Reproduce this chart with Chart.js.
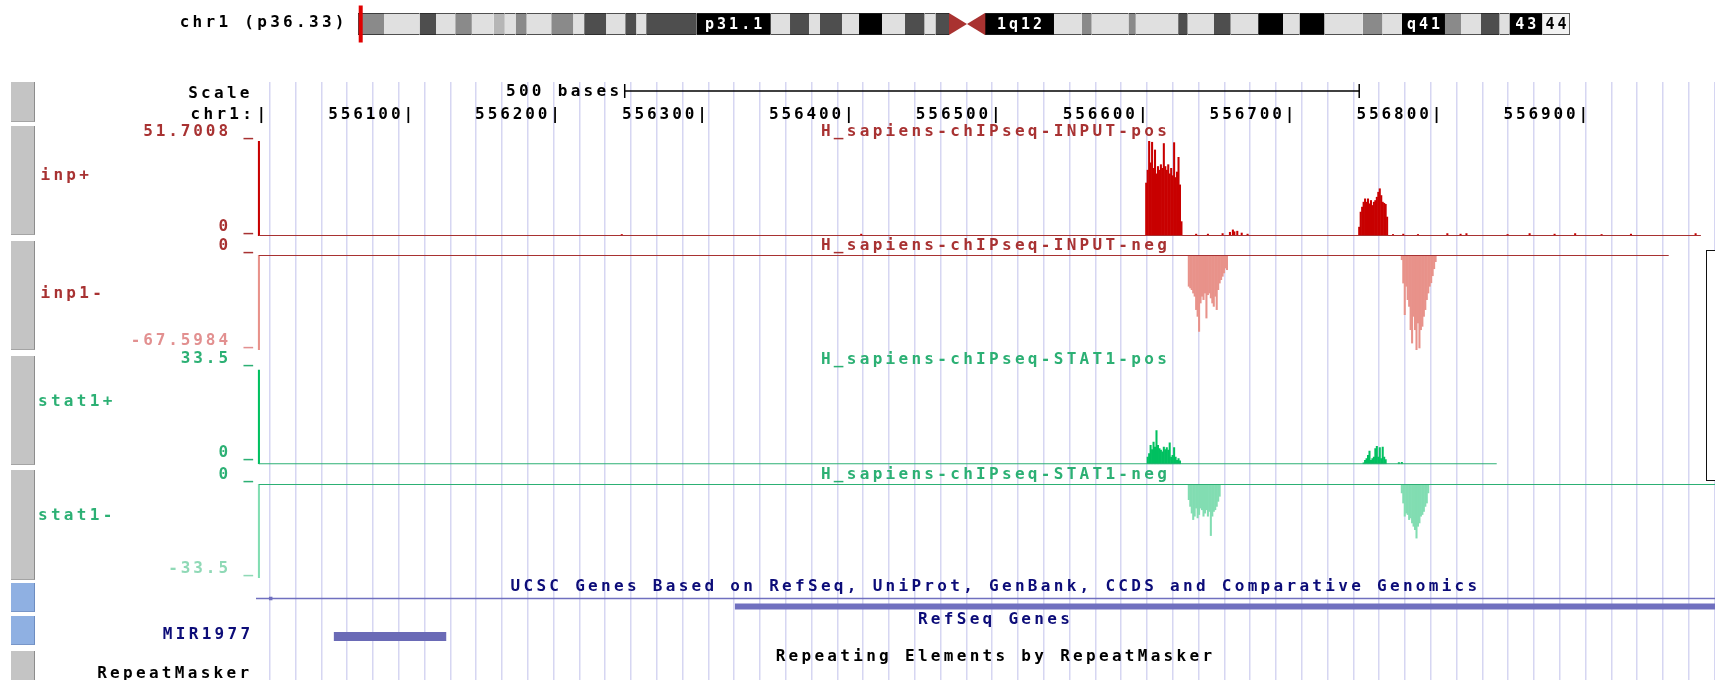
<!DOCTYPE html>
<html>
<head>
<meta charset="utf-8">
<script src="https://cdn.jsdelivr.net/npm/chart.js@4/dist/chart.umd.min.js"></script>
<style>
  html, body { margin: 0; padding: 0; background: #fff; }
  body { position: relative; width: 1715px; height: 680px; overflow: hidden; }
  canvas { position: absolute; }
  .t { position: absolute; font-family: "DejaVu Sans Mono", monospace; font-size: 16px; font-weight: bold;
       letter-spacing: 3.3px; line-height: 18px; white-space: pre; }
  .btn { position: absolute; left: 11px; width: 24px; box-sizing: border-box;
         background: #c4c4c4; border-right: 1px solid #8c8c8c; border-bottom: 1px solid #a4a4a4; }
  .btn.blue { background: #8fb0e2; border-right-color: #6d8cc0; border-bottom-color: #7896c8; }
  #sidebox { position: absolute; left: 1706px; top: 250px; width: 40px; height: 231px;
             border: 1.5px solid #111; background: #fff; box-sizing: border-box; }
</style>
</head>
<body>
<canvas id="tracks" width="1715" height="680" style="left:0;top:0"></canvas>
<canvas id="ideo" width="1226" height="48" style="left:352px;top:0"></canvas>
<div id="sidebox"></div>
<script>
const FONT = 'DejaVu Sans Mono';
const SPACING = '2.9px';

// ---- chr1 window and base-position ruler ----
const windowStart = 555995;
const windowEnd = 556988.2;
const rulerTicks = [556000, 556100, 556200, 556300, 556400, 556500, 556600, 556700, 556800, 556900];
const scaleBarStart = 556246;
const scaleBarBases = 500;

// ---- wiggle track view ranges ----
const inpPlusRange = [0, 51.7008];
const inpMinusRange = [-67.5984, 0];
const statPlusRange = [0, 33.5];
const statMinusRange = [-33.5, 0];

// ---- coverage runs: first base of each run and its per-base values ----
const inpPlusStarts = [555997, 556244, 556407, 556601, 556635, 556643, 556653, 556658, 556670,
  556746, 556769, 556776, 556786, 556806, 556815, 556819, 556847, 556862, 556879, 556893, 556911, 556931, 556975];
const inpPlusRuns = [
  [51.7008], [1.0], [1.2],
  [29, 36, 51.7, 40, 51.2, 37, 47, 34, 38, 36, 39, 37, 50.5, 38, 36, 39, 34, 37, 33, 51, 32, 35, 43, 28, 8],
  [1.2], [1.2], [1.5], [2.2, 0, 3.5, 2.5, 0, 2.8, 0, 0, 1.8], [1.2],
  [5, 13.2, 15.9, 18.6, 20.4, 18.6, 20.4, 17.7, 19.5, 16.8, 18.6, 19.5, 21.3, 24, 25.9, 22.2, 18.6, 18, 17.4, 10.5],
  [1.0], [1.2], [1.0], [1.5], [1.2], [1.5], [1.0], [1.5], [1.2], [1.5], [1.0], [1.2], [1.5]
];
const inpPlusExtent = [555997, 556978.6];

const inpMinusStarts = [555997, 556630, 556775];
const inpMinusRuns = [
  [-67.5984],
  [-22.5, -23.7, -24.9, -27.3, -29.6, -39.1, -43.9, -54.6, -34.4, -29.6, -32, -27.3, -45.1, -28.5,
   -27.3, -30.8, -34.4, -36.8, -29.6, -39.1, -24.9, -20.2, -17.8, -15.4, -13, -9.5, -10.7],
  [-3.6, -20.2, -42.7, -22.5, -32, -36.8, -53.4, -62.9, -43.9, -53.4, -67.5984, -48.6, -66.4, -53.4,
   -51, -43.9, -39.1, -32, -27.3, -22.5, -20, -15, -10, -5]
];
const inpMinusExtent = [555997, 556956.7];

const statPlusStarts = [555997, 556602, 556749, 556773];
const statPlusRuns = [
  [33.5],
  [2.7, 3.9, 6.8, 5.3, 8, 6.2, 12, 6.8, 5.7, 5.1, 4.5, 6.2, 5.3, 6, 5.1, 7.7, 2.7, 3.3, 6, 2.7, 1.5, 2.1, 1.3],
  [0.6, 1.5, 2.1, 3.3, 4.8, 1.5, 2.1, 2.7, 5.7, 6.5, 2.7, 6, 2.1, 6.2, 2.7, 1.8],
  [0.7, 0, 0.8]
];
const statPlusExtent = [555997, 556839.6];

const statMinusStarts = [555997, 556630, 556775];
const statMinusRuns = [
  [-33.5],
  [-5.7, -8.1, -10.5, -12.8, -11.6, -8.7, -12.2, -11, -8.7, -9.3, -11.6, -10.5, -9.3, -11.6, -9.9,
   -18.5, -11.6, -9.9, -9.3, -8.1, -6.3, -4.5],
  [-3.3, -6.9, -11.6, -10.5, -11, -12.8, -12.2, -14, -15.2, -16.4, -19.4, -15.2, -14, -11.6, -11,
   -9.9, -8.1, -6.9, -3.3]
];
const statMinusExtent = [555997, 556988.2];

// ---- gene features ----
const ucscGeneSpan = [555995, 556988.2];
const ucscGeneMarks = [556005];
const refSeqSpan = [556321, 556988.2];
const mir1977Span = [556048, 556124.5];

// ---- chr1 ideogram (Mb) ----
const bandEdges = [0, 5.34, 12.66, 16.03, 19.99, 23.38, 27.88, 30.14, 32.38, 34.64, 39.72, 44.22, 46.48,
  50.98, 54.92, 57.18, 59.22, 69.57, 84.80, 88.77, 92.67, 94.93, 99.45, 102.95, 107.67, 112.40, 116.40,
  118.66, 121.44, 128.83, 143.01, 148.70, 150.74, 158.32, 159.80, 168.53, 170.46, 175.89, 179.30, 184.97,
  190.07, 193.46, 198.57, 206.46, 210.47, 214.50, 223.35, 226.64, 230.75, 234.55, 236.60, 243.34, 249.0];
const bandStains = ['gpos50', 'gneg', 'gpos75', 'gneg', 'gpos50', 'gneg', 'gpos25', 'gneg', 'gpos50', 'gneg',
  'gpos50', 'gneg', 'gpos75', 'gneg', 'gpos75', 'gneg', 'gpos75', 'gpos100', 'gneg', 'gpos75', 'gneg',
  'gpos75', 'gneg', 'gpos100', 'gneg', 'gpos75', 'gneg', 'gpos75', 'acen', 'gvar', 'gneg', 'gpos50',
  'gneg', 'gpos50', 'gneg', 'gpos75', 'gneg', 'gpos75', 'gneg', 'gpos100', 'gneg', 'gpos100', 'gneg',
  'gpos50', 'gneg', 'gpos100', 'gpos50', 'gneg', 'gpos75', 'gneg', 'gpos100', 'gwhite'];
const bandNames = {17: 'p31.1', 29: '1q12', 45: 'q41', 50: '43', 51: '44'};
const viewMb = [0.555995, 0.556988];

// ---- styling ----
const stainColors = { gneg: '#e0e0e0', gwhite: '#f2f2f2', gpos25: '#b6b6b6', gpos50: '#8a8a8a',
  gpos75: '#4e4e4e', gpos100: '#000000', gvar: '#000000', acen: '#a93230' };
const C = {
  inpText: '#a83232', inpBar: '#c80000', inpNegBar: '#e8928a', inpNegLabel: '#e29090',
  statText: '#2cb074', statBar: '#00c060', statNegBar: '#82ddb2', statNegLabel: '#8fd9b6',
  geneText: '#0c0c78', geneLine: '#7070bf', geneBar: '#6a6ab6',
  grid: '#d6d6f2', leftEdge: '#f0b2b2'
};
const guideStart = 556013.1;
const guideStep = 17.563;
const geneRows = { ucsc: 20.5, refSeq: 28.5, mir: 58.5 };
const LABEL_COLUMN = 256;

function runsToPoints(starts, runs) {
  const pts = [];
  starts.forEach((s, k) => runs[k].forEach((v, i) => pts.push({ x: s + i, y: v })));
  return pts;
}

const spacingPlugin = {
  id: 'letterSpacing',
  beforeDraw(chart) { chart.ctx.letterSpacing = SPACING; }
};

const tickFont = { family: FONT, size: 16, weight: 'bold' };
const column = s => { s.width = LABEL_COLUMN; s.paddingTop = 0; s.paddingBottom = 0; };
const flat = s => { s.height = 0; s.paddingLeft = 0; s.paddingRight = 0; };

function trackAxis(range, weight, stackWeight, dark, light, offset) {
  return {
    type: 'linear', position: 'left', stack: 'tracks', stackWeight, weight,
    min: range[0], max: range[1], offset: false,
    afterBuildTicks: s => { s.ticks = range.map(v => ({ value: v })); },
    afterFit: column,
    grid: { display: false, drawTicks: false },
    border: { display: false },
    ticks: {
      autoSkip: false, padding: 0, labelOffset: offset, font: tickFont,
      color: c => (c.tick && c.tick.value === 0) ? dark : light,
      callback: v => v + ' _'
    }
  };
}
function spacer(weight, stackWeight, extra) {
  return Object.assign({ type: 'linear', display: false, position: 'left', stack: 'tracks',
    stackWeight, weight, min: 0, max: 1, afterFit: column }, extra || {});
}

const bar = { type: 'bar', xAxisID: 'x', grouped: false, barPercentage: 1.4, categoryPercentage: 1, borderWidth: 0, order: 2 };
const rule = (axis, ext, color) => ({
  type: 'line', xAxisID: 'x', yAxisID: axis, data: [{ x: ext[0], y: 0 }, { x: ext[1], y: 0 }],
  borderColor: color, borderWidth: 2, pointRadius: 0, order: 1
});
const span = (sp, row, width, color) => ({
  type: 'line', xAxisID: 'x', yAxisID: 'yGenes', data: [{ x: sp[0], y: row }, { x: sp[1], y: row }],
  borderColor: color, borderWidth: width, borderCapStyle: 'butt', pointRadius: 0
});

new Chart(document.getElementById('tracks'), {
  type: 'bar',
  data: {
    datasets: [
      { ...bar, label: 'inp+', yAxisID: 'yInpP', data: runsToPoints(inpPlusStarts, inpPlusRuns), backgroundColor: C.inpBar },
      { ...bar, label: 'inp1-', yAxisID: 'yInpN', data: runsToPoints(inpMinusStarts, inpMinusRuns), backgroundColor: C.inpNegBar },
      { ...bar, label: 'stat1+', yAxisID: 'yStatP', data: runsToPoints(statPlusStarts, statPlusRuns), backgroundColor: C.statBar },
      { ...bar, label: 'stat1-', yAxisID: 'yStatN', data: runsToPoints(statMinusStarts, statMinusRuns), backgroundColor: C.statNegBar },
      rule('yInpP', inpPlusExtent, C.inpText),
      rule('yInpN', inpMinusExtent, C.inpText),
      rule('yStatP', statPlusExtent, C.statText),
      rule('yStatN', statMinusExtent, C.statText),
      {
        type: 'line', xAxisID: 'x', yAxisID: 'yRuler',
        data: [{ x: scaleBarStart, y: 9 }, { x: scaleBarStart + scaleBarBases, y: 9 }],
        borderColor: '#000', borderWidth: 1.5, pointStyle: 'line', pointRotation: 90, pointRadius: 7,
        pointBorderColor: '#000', pointBorderWidth: 1.5
      },
      span(ucscGeneSpan, geneRows.ucsc, 1.5, C.geneLine),
      {
        type: 'line', xAxisID: 'x', yAxisID: 'yGenes', showLine: false,
        data: ucscGeneMarks.map(v => ({ x: v, y: geneRows.ucsc })),
        pointStyle: 'rect', pointRadius: 2.5, pointBackgroundColor: C.geneLine, pointBorderWidth: 0
      },
      span(refSeqSpan, geneRows.refSeq, 6, C.geneLine),
      span(mir1977Span, geneRows.mir, 9, C.geneBar)
    ]
  },
  options: {
    responsive: false, animation: false, events: [],
    layout: { autoPadding: false, padding: { top: 82, left: 0, right: 0, bottom: 0 } },
    plugins: { legend: { display: false }, tooltip: { enabled: false } },
    scales: {
      x: { type: 'linear', display: false, min: windowStart, max: windowEnd, offset: false, afterFit: flat },
      xg: {
        type: 'linear', axis: 'x', position: 'bottom', min: windowStart, max: windowEnd, offset: false,
        afterBuildTicks: s => {
          const t = [{ value: windowStart }];
          for (let v = guideStart; v <= windowEnd; v += guideStep) t.push({ value: v });
          s.ticks = t;
        },
        afterFit: flat,
        grid: { color: c => c.index === 0 ? C.leftEdge : C.grid, lineWidth: 1.5, drawTicks: false },
        ticks: { display: false },
        border: { display: false }
      },
      xr: {
        type: 'linear', axis: 'x', position: { yRuler: 23 }, min: windowStart, max: windowEnd, offset: false,
        afterBuildTicks: s => { s.ticks = rulerTicks.map(v => ({ value: v })); },
        afterFit: flat,
        grid: { display: false, drawTicks: false },
        border: { display: false },
        ticks: {
          autoSkip: false, maxRotation: 0, padding: 0, align: 'end', labelOffset: 5.7,
          color: '#000', font: tickFont,
          callback: v => v === rulerTicks[0] ? '|' : v + '|'
        }
      },
      yRuler: spacer(9, 59, { max: 59, reverse: true }),
      yInpP: trackAxis(inpPlusRange, 8, 95, C.inpText, C.inpText, -9.5),
      yGap1: spacer(7, 19),
      yInpN: trackAxis(inpMinusRange, 6, 95, C.inpText, C.inpNegLabel, -9),
      yGap2: spacer(5, 19.5),
      yStatP: trackAxis(statPlusRange, 4, 94.8, C.statText, C.statText, -11),
      yGap3: spacer(3, 19.7),
      yStatN: trackAxis(statMinusRange, 2, 94, C.statText, C.statNegLabel, -9),
      yGenes: spacer(1, 102, { max: 102, reverse: true })
    }
  },
  plugins: [spacingPlugin]
});

// ---- ideogram ----
const ideoDatasets = bandStains.map((stain, i) => ({
  type: 'bar', grouped: false, barThickness: 22,
  data: [{ x: [bandEdges[i], bandEdges[i + 1]], y: 0 }],
  backgroundColor: stainColors[stain],
  borderColor: '#222',
  borderSkipped: false,
  borderWidth: stain === 'acen' ? 0 : { top: 1, bottom: 1, left: i === 0 ? 1 : 0, right: i === bandStains.length - 1 ? 1 : 0 },
  order: 3
}));
const acenIndex = bandStains.indexOf('acen');
const acenS = bandEdges[acenIndex], acenE = bandEdges[acenIndex + 1], acenM = (acenS + acenE) / 2;
ideoDatasets.push(
  { type: 'line', indexAxis: 'x', data: [{ x: acenS, y: 1 }, { x: acenM, y: 0 }, { x: acenE, y: 1 }],
    fill: 'end', backgroundColor: '#fff', borderWidth: 0, pointRadius: 0, order: 2 },
  { type: 'line', indexAxis: 'x', data: [{ x: acenS, y: -1 }, { x: acenM, y: 0 }, { x: acenE, y: -1 }],
    fill: 'start', backgroundColor: '#fff', borderWidth: 0, pointRadius: 0, order: 2 },
  { type: 'bar', grouped: false, barThickness: 33, inflateAmount: 2, clip: false,
    data: [{ x: viewMb, y: 0 }], backgroundColor: '#e00000', borderWidth: 0, order: 0 }
);

const bandLabelPlugin = {
  id: 'bandLabels',
  afterDatasetsDraw(chart) {
    const { ctx, chartArea } = chart;
    const x = chart.scales.x;
    const yc = (chartArea.top + chartArea.bottom) / 2 + 1;
    ctx.save();
    ctx.font = 'bold 15px "' + FONT + '"';
    ctx.letterSpacing = '3px';
    ctx.textAlign = 'center';
    ctx.textBaseline = 'middle';
    Object.keys(bandNames).forEach(k => {
      const i = +k;
      const cx = x.getPixelForValue((bandEdges[i] + bandEdges[i + 1]) / 2) + 1.5;
      const light = bandStains[i] === 'gneg' || bandStains[i] === 'gwhite';
      ctx.fillStyle = light ? '#000' : '#fff';
      ctx.fillText(bandNames[k], cx, yc);
    });
    ctx.restore();
  }
};

new Chart(document.getElementById('ideo'), {
  type: 'bar',
  data: { datasets: ideoDatasets },
  options: {
    indexAxis: 'y', responsive: false, animation: false, events: [],
    layout: { autoPadding: false, padding: { left: 6, right: 8.2, top: 13, bottom: 13 } },
    plugins: { legend: { display: false }, tooltip: { enabled: false } },
    scales: {
      x: { type: 'linear', display: false, min: 0, max: 249, offset: false },
      y: { type: 'linear', display: false, min: -1, max: 1, offset: false }
    }
  },
  plugins: [bandLabelPlugin]
});

// ---- side buttons and labels ----
const buttons = [[82, 122, ''], [126, 235, ''], [240.5, 350, ''], [355.5, 465, ''], [470, 580, ''],
  [583, 612, 'blue'], [616, 645, 'blue'], [651, 690, '']];
buttons.forEach(([t, b, cls]) => {
  const d = document.createElement('div');
  d.className = 'btn ' + cls;
  d.style.top = t + 'px';
  d.style.height = (b - t) + 'px';
  document.body.appendChild(d);
});

function label(text, x, y, align, color) {
  const d = document.createElement('div');
  d.className = 't';
  d.textContent = text;
  d.style.left = x + 'px';
  d.style.top = y + 'px';
  d.style.color = color;
  const tx = align === 'right' ? '-100%' : align === 'center' ? '-50%' : '0';
  d.style.transform = 'translate(' + tx + ', -50%)';
  document.body.appendChild(d);
}
const mid = 995.5;
label('chr1 (p36.33)', 347.8, 22, 'right', '#000');
label('Scale', 252.8, 93, 'right', '#000');
label('chr1:', 255.2, 113.8, 'right', '#000');
label('500 bases', 622.4, 91, 'right', '#000');
label('H_sapiens-chIPseq-INPUT-pos', mid, 131.3, 'center', C.inpText);
label('H_sapiens-chIPseq-INPUT-neg', mid, 245, 'center', C.inpText);
label('H_sapiens-chIPseq-STAT1-pos', mid, 358.8, 'center', C.statText);
label('H_sapiens-chIPseq-STAT1-neg', mid, 473.6, 'center', C.statText);
label('UCSC Genes Based on RefSeq, UniProt, GenBank, CCDS and Comparative Genomics', mid, 586.3, 'center', C.geneText);
label('RefSeq Genes', mid, 619, 'center', C.geneText);
label('Repeating Elements by RepeatMasker', mid, 656.3, 'center', '#000');
label('inp+', 40.5, 175, 'left', C.inpText);
label('inp1-', 40.5, 293, 'left', C.inpText);
label('stat1+', 38, 401.4, 'left', C.statText);
label('stat1-', 38, 515, 'left', C.statText);
label('MIR1977', 253.4, 634.4, 'right', C.geneText);
label('RepeatMasker', 252.4, 672.7, 'right', '#000');
</script>
</body>
</html>
